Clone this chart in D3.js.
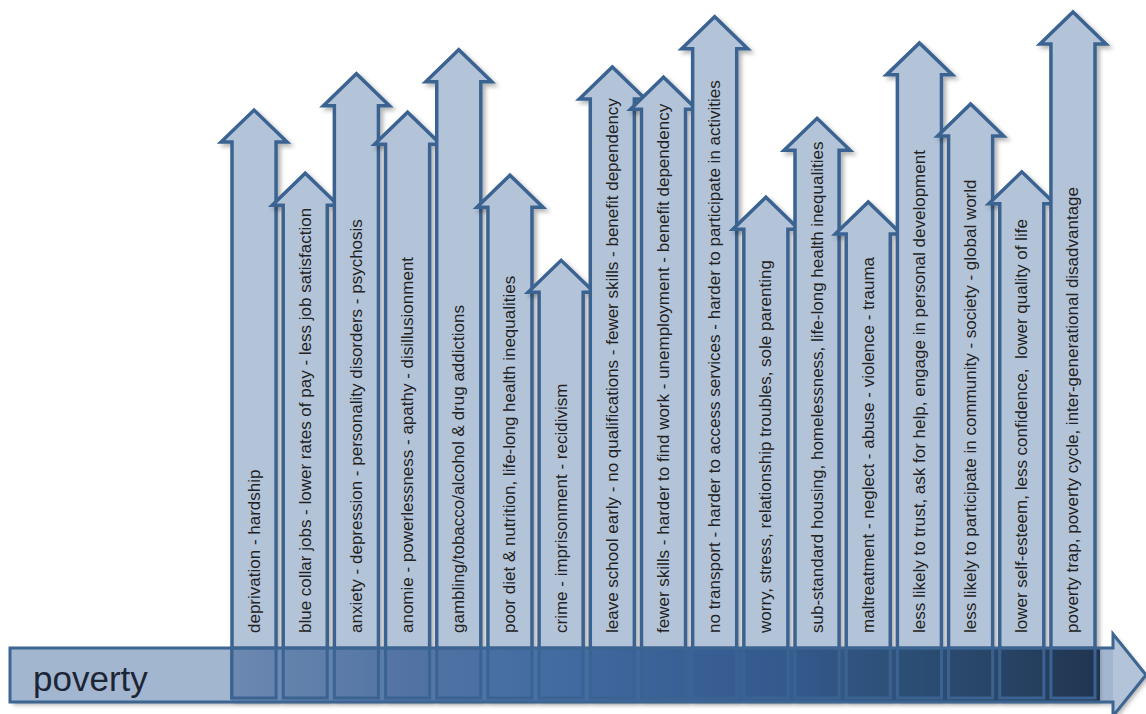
<!DOCTYPE html>
<html>
<head>
<meta charset="utf-8">
<script src="https://cdn.jsdelivr.net/npm/d3@7"></script>
<style>
  html, body { margin: 0; padding: 0; background: #fff; }
  svg { display: block; }
</style>
</head>
<body>
<div id="chart"></div>
<script>
// poverty -> consequences, one arrow per consequence
const labels = [
  "deprivation - hardship",
  "blue collar jobs - lower rates of pay - less job satisfaction",
  "anxiety - depression - personality disorders - psychosis",
  "anomie - powerlessness - apathy - disillusionment",
  "gambling/tobacco/alcohol & drug addictions",
  "poor diet & nutrition, life-long health inequalities",
  "crime - imprisonment - recidivism",
  "leave school early - no qualifications - fewer skills - benefit dependency",
  "fewer skills - harder to find work - unemployment - benefit dependency",
  "no transport - harder to access services - harder to participate in activities",
  "worry, stress, relationship troubles, sole parenting",
  "sub-standard housing, homelessness, life-long health inequalities",
  "maltreatment - neglect - abuse - violence - trauma",
  "less likely to trust, ask for help, engage in personal development",
  "less likely to participate in community - society - global world",
  "lower self-esteem, less confidence,  lower quality of life",
  "poverty trap, poverty cycle, inter-generational disadvantage"
];

// arrow heights (0-100)
const heights = [85.7, 76.5, 91.0, 85.4, 94.5, 76.2, 63.8, 92.0, 90.5, 99.3, 73.0, 84.5, 72.3, 95.5, 86.6, 76.7, 100];

const baseLabel = "poverty";

const W = 1146, H = 714;
const bandTop = 648, bandBottom = 702, shaftBottom = 698;
const headHalf = 33, headH = 32;

const svg = d3.select("#chart")
  .append("svg")
  .attr("width", W)
  .attr("height", H);

const defs = svg.append("defs");

defs.append("filter")
  .attr("id", "shadow")
  .attr("x", "-20%").attr("y", "-20%")
  .attr("width", "140%").attr("height", "140%")
  .append("feDropShadow")
  .attr("dx", 3).attr("dy", 3)
  .attr("stdDeviation", 2)
  .attr("flood-color", "#000")
  .attr("flood-opacity", 0.3);

const x = d3.scaleBand()
  .domain(labels)
  .range([232, 1095])
  .paddingInner(0.139)
  .paddingOuter(0);

const y = d3.scaleLinear()
  .domain([0, 100])
  .range([shaftBottom, 12]);

const bandLeft = x(labels[0]);
const bandRight = x(labels[labels.length - 1]) + x.bandwidth() + 5;

const grad = defs.append("linearGradient")
  .attr("id", "bandGrad")
  .attr("gradientUnits", "userSpaceOnUse")
  .attr("x1", bandLeft).attr("x2", bandRight)
  .attr("y1", 0).attr("y2", 0);

[
  [0, "#7290b7"], [0.194, "#5779a9"], [0.378, "#4670a6"], [0.539, "#3b6298"],
  [0.654, "#365c8f"], [0.769, "#2e5279"], [0.885, "#2a4767"], [1, "#223650"]
].forEach(([o, c]) => grad.append("stop").attr("offset", o).attr("stop-color", c));

// horizontal "poverty" arrow
const headBase = 1113;
const povertyPath = d3.path();
povertyPath.moveTo(10, bandTop);
povertyPath.lineTo(headBase, bandTop);
povertyPath.lineTo(headBase, 634);
povertyPath.lineTo(W, (bandTop + bandBottom) / 2);
povertyPath.lineTo(headBase, 716);
povertyPath.lineTo(headBase, bandBottom);
povertyPath.lineTo(10, bandBottom);
povertyPath.closePath();

svg.append("path")
  .attr("d", povertyPath.toString())
  .attr("fill", "#a3b6cf")
  .attr("filter", "url(#shadow)");

svg.append("path")
  .attr("d", `M${headBase},${bandTop}L${headBase},634L${W},${(bandTop + bandBottom) / 2}L${headBase},716L${headBase},${bandBottom}Z`)
  .attr("fill", "#b4c4d8");

// vertical arrows
function arrowPath(d) {
  const l = x(d.label), r = l + x.bandwidth(), cx = l + x.bandwidth() / 2;
  const tip = y(d.value), base = tip + headH;
  return `M${l},${shaftBottom}L${l},${base}L${cx - headHalf},${base}L${cx},${tip}` +
    `L${cx + headHalf},${base}L${r},${base}L${r},${shaftBottom}Z`;
}

const arrows = labels.map((label, i) => ({ label, value: heights[i] }));

const g = svg.append("g").attr("class", "arrows");

const arrow = g.selectAll("g.arrow")
  .data(arrows)
  .join("g")
  .attr("class", "arrow");

arrow.append("path")
  .attr("d", arrowPath)
  .attr("fill", "#b4c4d8")
  .attr("stroke", "#3b6391")
  .attr("stroke-width", 3.5)
  .attr("stroke-linejoin", "miter")
  .attr("filter", "url(#shadow)");

arrow.append("text")
  .attr("transform", d => `translate(${x(d.label) + x.bandwidth() / 2},633) rotate(-90)`)
  .attr("text-anchor", "start")
  .attr("dominant-baseline", "central")
  .style("font-family", "'Liberation Sans', Arial, sans-serif")
  .style("font-size", "17px")
  .style("fill", "#222")
  .style("white-space", "pre")
  .text(d => d.label);

// dark band where the arrows meet poverty
svg.append("rect")
  .attr("x", bandLeft)
  .attr("y", bandTop)
  .attr("width", bandRight - bandLeft)
  .attr("height", bandBottom - bandTop)
  .attr("fill", "url(#bandGrad)");

svg.selectAll("rect.foot")
  .data(arrows)
  .join("rect")
  .attr("class", "foot")
  .attr("x", d => x(d.label))
  .attr("y", bandTop)
  .attr("width", x.bandwidth())
  .attr("height", shaftBottom - bandTop)
  .attr("fill", "rgba(20,40,80,0.06)")
  .attr("stroke", "#3b6391")
  .attr("stroke-width", 3);

svg.append("path")
  .attr("d", povertyPath.toString())
  .attr("fill", "none")
  .attr("stroke", "#3d6591")
  .attr("stroke-width", 3);

svg.append("text")
  .attr("x", 33)
  .attr("y", 691)
  .style("font-family", "'Liberation Sans', Arial, sans-serif")
  .style("font-size", "35px")
  .style("fill", "#1c2536")
  .text(baseLabel);
</script>
</body>
</html>
